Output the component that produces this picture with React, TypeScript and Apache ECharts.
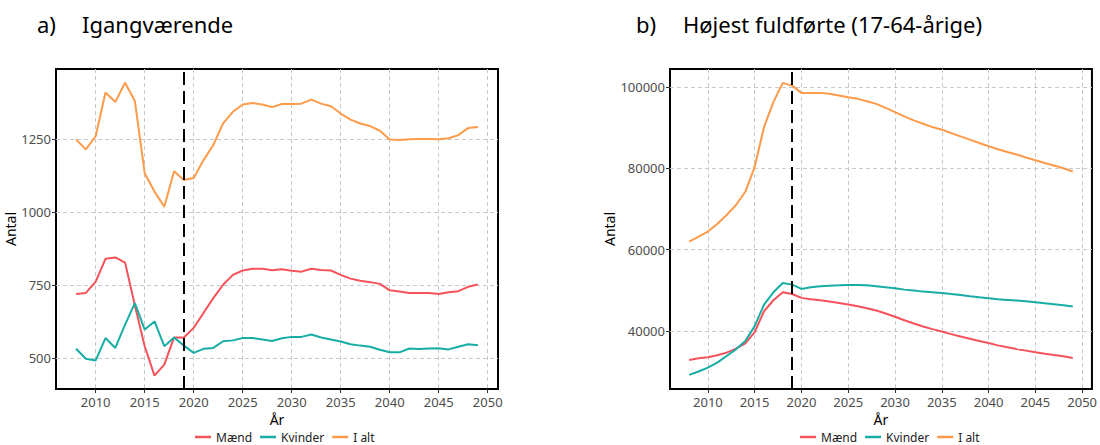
import React, { useEffect, useRef } from "react";
import * as echarts from "echarts";

const years = Array.from({ length: 42 }, (_, i) => 2008 + i);

// a) Igangværende
const maendA = [719, 723, 762, 840, 845, 827, 680, 540, 439, 477, 570, 570, 603, 654, 705, 751, 785, 800, 806, 806, 801, 804, 799, 796, 806, 802, 800, 785, 772, 765, 760, 754, 732, 728, 723, 723, 723, 719, 725, 729, 744, 752];
const kvinderA = [531, 497, 491, 568, 534, 614, 688, 597, 625, 540, 570, 542, 517, 531, 534, 557, 560, 568, 568, 563, 558, 567, 572, 572, 580, 570, 563, 556, 547, 542, 538, 528, 519, 519, 532, 530, 532, 533, 529, 538, 547, 543];
const ialtA = [1250, 1216, 1261, 1411, 1379, 1445, 1382, 1134, 1071, 1019, 1141, 1111, 1118, 1179, 1231, 1305, 1345, 1370, 1375, 1370, 1361, 1372, 1372, 1373, 1387, 1373, 1364, 1339, 1318, 1305, 1296, 1280, 1250, 1248, 1251, 1252, 1252, 1251, 1254, 1265, 1289, 1293];

// b) Højest fuldførte (17-64-årige)
const maendB = [32840, 33260, 33500, 34000, 34650, 35630, 36940, 39700, 44850, 47550, 49510, 49100, 48140, 47800, 47550, 47230, 46900, 46500, 46080, 45590, 45020, 44290, 43480, 42640, 41840, 41100, 40440, 39880, 39220, 38650, 38080, 37500, 37010, 36440, 35960, 35540, 35150, 34730, 34400, 34070, 33750, 33330];
const kvinderB = [29166, 30000, 30980, 32200, 33820, 35460, 37500, 41180, 46500, 49510, 51810, 51400, 50340, 50730, 50980, 51150, 51230, 51320, 51320, 51230, 50980, 50730, 50490, 50170, 49930, 49680, 49510, 49350, 49100, 48860, 48530, 48280, 48040, 47790, 47630, 47470, 47300, 47060, 46810, 46570, 46320, 46000];
const ialtB = [62010, 63235, 64460, 66350, 68550, 71000, 74265, 80390, 90200, 96330, 101080, 100410, 98620, 98620, 98620, 98380, 97970, 97550, 97150, 96570, 95920, 94940, 93870, 92820, 91840, 91020, 90200, 89560, 88730, 87920, 87100, 86270, 85470, 84730, 84070, 83430, 82700, 82030, 81370, 80730, 80070, 79260];

const xTicks = [2010, 2015, 2020, 2025, 2030, 2035, 2040, 2045, 2050];
const yTicksA = [500, 750, 1000, 1250];
const yTicksB = [40000, 60000, 80000, 100000];
const seriesNames = ["Mænd", "Kvinder", "I alt"];
const colors = ["#F5525A", "#17ADA4", "#FD9B4B"];
const splitYear = 2019;

const FONT = "Noto Sans";

export default function App() {
  const ref = useRef<HTMLDivElement>(null);
  useEffect(() => {
    const chart = echarts.init(ref.current!, null, { renderer: "svg" });
    const gridLine = { show: true, lineStyle: { color: "#C9C9C9", width: 1, type: [4, 3] } };
    const xAxis = (gi: number) => ({
      type: "value",
      gridIndex: gi,
      min: 2005.95,
      max: 2051.05,
      name: "År",
      nameLocation: "middle",
      nameGap: 22,
      nameTextStyle: { color: "#000", fontSize: 14, fontFamily: FONT },
      axisLine: { show: false },
      axisTick: { show: true, length: 4, lineStyle: { color: "#333" }, customValues: xTicks },
      axisLabel: { color: "#4D4D4D", fontSize: 13, fontFamily: FONT, margin: 6, customValues: xTicks, formatter: (v: number) => String(v) },
      splitLine: gridLine,
    });
    const yAxis = (gi: number, min: number, max: number, ticks: number[], gap: number) => ({
      type: "value",
      gridIndex: gi,
      min,
      max,
      name: "Antal",
      nameLocation: "middle",
      nameGap: gap,
      nameTextStyle: { color: "#000", fontSize: 14, fontFamily: FONT },
      axisLine: { show: false },
      axisTick: { show: true, length: 4, lineStyle: { color: "#333" }, customValues: ticks },
      axisLabel: { color: "#4D4D4D", fontSize: 13, fontFamily: FONT, margin: 5, customValues: ticks, formatter: (v: number) => String(v) },
      splitLine: gridLine,
    });
    const mk = (name: string, data: number[], gi: number, ci: number, withLine: boolean) => ({
      type: "line",
      name,
      xAxisIndex: gi,
      yAxisIndex: gi,
      data: years.map((y, i) => [y, data[i]]),
      symbol: "none",
      lineStyle: { width: 2, color: colors[ci] },
      itemStyle: { color: colors[ci] },
      z: 3,
      markLine: withLine
        ? {
            silent: true,
            symbol: "none",
            label: { show: false },
            lineStyle: { color: "#000", width: 2, type: [13, 6] },
            data: [{ xAxis: splitYear }],
          }
        : undefined,
    });
    const legend = (left: number) => ({
      left,
      top: 431,
      padding: 0,
      icon: "rect",
      itemWidth: 16,
      itemHeight: 2.5,
      itemGap: 8,
      textStyle: { color: "#222", fontSize: 12, lineHeight: 12, fontFamily: FONT },
      data: seriesNames,
    });
    chart.setOption({
      animation: false,
      grid: [
        { left: 56, top: 69, width: 442, height: 320, show: true, borderColor: "#000", borderWidth: 2, backgroundColor: "transparent" },
        { left: 670, top: 69, width: 425, height: 320, show: true, borderColor: "#000", borderWidth: 2, backgroundColor: "transparent" },
      ],
      xAxis: [xAxis(0), xAxis(1)],
      yAxis: [yAxis(0, 393, 1492, yTicksA, 33), yAxis(1, 25700, 104500, yTicksB, 48)],
      legend: [legend(195), legend(800)],
      graphic: [
        { type: "text", left: 37, top: 13, style: { text: "a)", fontSize: 22, fontFamily: FONT, fill: "#000" } },
        { type: "text", left: 82, top: 13, style: { text: "Igangværende", fontSize: 22, fontFamily: FONT, fill: "#000" } },
        { type: "text", left: 636, top: 13, style: { text: "b)", fontSize: 22, fontFamily: FONT, fill: "#000" } },
        { type: "text", left: 683, top: 13, style: { text: "Højest fuldførte (17-64-årige)", fontSize: 22, fontFamily: FONT, fill: "#000" } },
      ],
      series: [
        mk(seriesNames[0], maendA, 0, 0, true),
        mk(seriesNames[1], kvinderA, 0, 1, false),
        mk(seriesNames[2], ialtA, 0, 2, false),
        mk(seriesNames[0], maendB, 1, 0, true),
        mk(seriesNames[1], kvinderB, 1, 1, false),
        mk(seriesNames[2], ialtB, 1, 2, false),
      ],
    });
    return () => chart.dispose();
  }, []);
  return <div ref={ref} style={{ position: "fixed", left: 0, top: 0, width: 1100, height: 445, background: "#fff" }} />;
}
